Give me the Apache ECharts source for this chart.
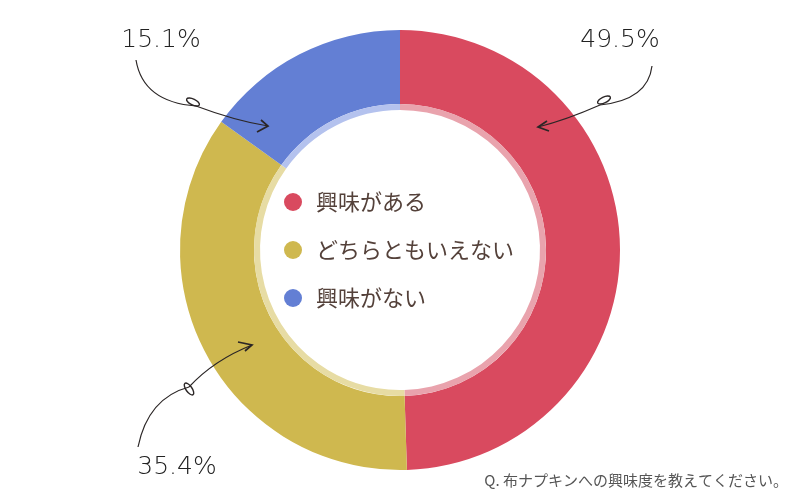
<!DOCTYPE html>
<html><head><meta charset="utf-8">
<script src="https://cdn.jsdelivr.net/npm/echarts@6/dist/echarts.min.js"></script>
<style>html,body{margin:0;padding:0;background:#fff}#c{width:800px;height:500px}</style>
</head><body><div id="c"></div>
<script>
const categories = ['興味がある', 'どちらともいえない', '興味がない'];
const values = [49.5, 35.4, 15.1];
const colors = ['#d94a5f', '#cfb84f', '#637fd4'];
const bandColors = ['#e9a3ad', '#e7dca4', '#b4c2ee'];
const question = 'Q. 布ナプキンへの興味度を教えてください。';
const labelPos = [[620, 40, 'center'], [177, 467, 'center'], [161, 40, 'center']];

const chart = echarts.init(document.getElementById('c'));
const ink = '#2b2626';
function arrow(pts, loop, head) {
  return [
    {type:'bezierCurve', z:100, shape:{x1:pts[0][0],y1:pts[0][1],cpx1:pts[1][0],cpy1:pts[1][1],x2:pts[2][0],y2:pts[2][1]}, style:{stroke:ink,lineWidth:1.2,fill:null}},
    {type:'bezierCurve', z:100, shape:{x1:pts[2][0],y1:pts[2][1],cpx1:pts[3][0],cpy1:pts[3][1],x2:pts[4][0],y2:pts[4][1]}, style:{stroke:ink,lineWidth:1.2,fill:null}},
    {type:'ellipse', z:100, x:loop[0], y:loop[1], rotation:loop[2], shape:{cx:0,cy:0,rx:7,ry:3}, style:{stroke:ink,lineWidth:1.4,fill:null}},
    {type:'polyline', z:100, shape:{points:head}, style:{stroke:ink,lineWidth:1.7,fill:null}}
  ];
}
const graphics = [].concat(
  arrow([[136,60],[143,102],[196,106],[236,121],[268,126]], [193,102,-0.45], [[261,120],[268,126],[257,132]]),
  arrow([[652,66],[648,100],[600,105],[566,120],[538,127]], [604,100,0.45], [[547,121],[538,127],[549,131]]),
  arrow([[138,447],[148,398],[189,387],[214,360],[252,345]], [189,389,-0.95], [[238,342],[252,345],[245,351]]),
  [{type:'text', z:100, right:12, top:473, style:{text:question, fontSize:15, fill:'#555', fontFamily:'Noto Sans CJK JP'}}]
);

chart.setOption({
  animation:false,
  color: colors,
  legend: {
    orient:'vertical', left:284, top:191, padding:0,
    data: categories, icon:'circle', itemWidth:18, itemHeight:18, itemGap:26,
    textStyle:{fontSize:22, lineHeight:22, color:'#54413a', fontFamily:'Noto Sans CJK JP', padding:[0,0,0,9]},
    selectedMode:false
  },
  series: [
    {
      type:'pie', center:[400,250], radius:[146,220], startAngle:90, clockwise:true,
      silent:true,
      data: categories.map((n,i)=>({name:n, value:values[i], itemStyle:{color:colors[i]}})),
      label:{show:true, formatter:p=>p.value.toFixed(1)+'%', fontSize:25, color:'#222',
        fontFamily:'DejaVu Sans', fontWeight:200},
      labelLine:{show:false},
      labelLayout: p => ({x:labelPos[p.dataIndex][0], y:labelPos[p.dataIndex][1], align:labelPos[p.dataIndex][2], verticalAlign:'middle'})
    },
    {
      type:'pie', center:[400,250], radius:[140,146], startAngle:90, clockwise:true,
      silent:true, label:{show:false}, labelLine:{show:false},
      data: categories.map((n,i)=>({name:n, value:values[i], itemStyle:{color:bandColors[i]}}))
    }
  ],
  graphic: graphics
});
</script></body></html>
